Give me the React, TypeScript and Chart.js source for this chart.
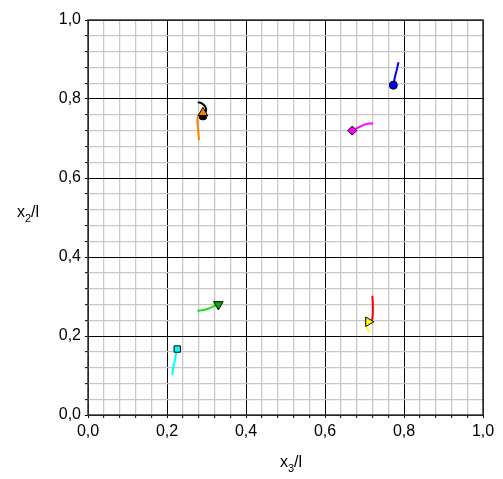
import React, { useEffect, useRef } from "react";
import { Chart, registerables } from "chart.js";

Chart.register(...registerables);

// Axis ticks
const axisMin = 0;
const axisMax = 1;
const gridStep = 0.04;
const majorStep = 0.2;
const xTitle = ["x", "3", "/l"];
const yTitle = ["x", "2", "/l"];

// Trajectories (x3/l, x2/l); last point carries the marker
const blackX = [0.278, 0.288, 0.296, 0.299, 0.296, 0.291];
const blackY = [0.792, 0.789, 0.782, 0.772, 0.764, 0.757];
const orangeX = [0.281, 0.279, 0.277, 0.279, 0.285, 0.291];
const orangeY = [0.696, 0.72, 0.745, 0.757, 0.763, 0.765];
const blueX = [0.786, 0.782, 0.778, 0.775, 0.773];
const blueY = [0.893, 0.875, 0.86, 0.845, 0.835];
const magentaX = [0.722, 0.712, 0.697, 0.683, 0.669];
const magentaY = [0.738, 0.738, 0.734, 0.727, 0.72];
const greenX = [0.277, 0.287, 0.298, 0.313, 0.33];
const greenY = [0.263, 0.265, 0.267, 0.273, 0.28];
const cyanX = [0.213, 0.216, 0.22, 0.223, 0.226];
const cyanY = [0.101, 0.12, 0.139, 0.155, 0.167];
const redX = [0.72, 0.721, 0.721, 0.72, 0.718];
const redY = [0.302, 0.28, 0.257, 0.245, 0.236];
const yellowX = [0.714, 0.709, 0.705, 0.707, 0.71];
const yellowY = [0.211, 0.216, 0.224, 0.231, 0.236];

const seriesNames = ["black", "orange", "blue", "magenta", "green", "cyan", "red", "yellow"];
const seriesX = [blackX, orangeX, blueX, magentaX, greenX, cyanX, redX, yellowX];
const seriesY = [blackY, orangeY, blueY, magentaY, greenY, cyanY, redY, yellowY];
const lineColors = ["#000000", "#ff8000", "#0000ff", "#ff00ff", "#22dd22", "#00ffff", "#ff0000", "#ffff00"];
const markerColors = ["#000000", "#ff8000", "#0000ff", "#ff00ff", "#00b000", "#00ffff", "#ff0000", "#ffff00"];
const markerStyles = ["circle", "triangle", "circle", "rectRot", "triangle", "rect", "circle", "triangle"];
const markerRotations = [0, 0, 0, 0, 180, 0, 0, 90];
const markerSizes = [4, 5.5, 4, 4.5, 5.5, 4.5, 0, 5.5];

const isMajor = (v: number) => Math.abs(v / majorStep - Math.round(v / majorStep)) < 1e-6;

const fontFamily = "'Liberation Sans', Arial, sans-serif";

const extrasPlugin = {
  id: "extras",
  afterDraw(chart: any) {
    const { ctx, chartArea } = chart;
    ctx.save();
    // border
    ctx.strokeStyle = "#333";
    ctx.lineWidth = 1.5;
    ctx.strokeRect(chartArea.left, chartArea.top, chartArea.right - chartArea.left, chartArea.bottom - chartArea.top);
    // titles with subscripts
    const drawTitle = (parts: string[], cx: number, cy: number) => {
      ctx.fillStyle = "#000";
      ctx.textBaseline = "alphabetic";
      ctx.textAlign = "left";
      const big = "16px " + fontFamily;
      const small = "11px " + fontFamily;
      ctx.font = big;
      const w0 = ctx.measureText(parts[0]).width;
      const w2 = ctx.measureText(parts[2]).width;
      ctx.font = small;
      const w1 = ctx.measureText(parts[1]).width;
      const total = w0 + w1 + w2;
      let x = cx - total / 2;
      ctx.font = big;
      ctx.fillText(parts[0], x, cy);
      x += w0;
      ctx.font = small;
      ctx.fillText(parts[1], x, cy + 5);
      x += w1;
      ctx.font = big;
      ctx.fillText(parts[2], x, cy);
    };
    drawTitle(xTitle, 291, 467);
    drawTitle(yTitle, 28, 217);
    ctx.restore();
  },
};

export default function App() {
  const ref = useRef<HTMLCanvasElement>(null);
  useEffect(() => {
    if (!ref.current) return;
    const datasets = seriesNames.map((name, i) => {
      const n = seriesX[i].length;
      return {
        label: name,
        data: seriesX[i].map((x, j) => ({ x, y: seriesY[i][j] })),
        borderColor: lineColors[i],
        backgroundColor: markerColors[i],
        borderWidth: 2,
        showLine: true,
        tension: 0.4,
        pointRadius: seriesX[i].map((_, j) => (j === n - 1 ? markerSizes[i] : 0)),
        pointStyle: markerStyles[i] as any,
        rotation: markerRotations[i],
        pointBorderColor: "#000",
        pointBorderWidth: 1,
        pointBackgroundColor: markerColors[i],
        order: 10 - i,
      };
    });
    const scaleCommon = (axis: "x" | "y") => ({
      type: "linear" as const,
      min: axisMin,
      max: axisMax,
      afterBuildTicks(scale: any) {
        const t = [];
        for (let i = 0; i <= 25; i++) t.push({ value: Math.round(i * gridStep * 100) / 100 });
        scale.ticks = t;
      },
      afterFit(scale: any) {
        if (axis === "y") scale.width = 88;
        else scale.height = 64;
      },
      border: { display: false },
      grid: {
        color: (c: any) => (isMajor(c.tick.value) ? "#000000" : "#c8c8c8"),
        lineWidth: (c: any) => (isMajor(c.tick.value) ? 1 : 1.3),
        tickColor: "#000",
        tickLength: 3,
        tickWidth: 1,
        drawTicks: true,
      },
      ticks: {
        autoSkip: false,
        maxRotation: 0,
        padding: axis === "x" ? 4 : 4,
        color: "#000",
        font: { family: fontFamily, size: 16 },
        callback: (v: any) => (isMajor(Number(v)) ? Number(v).toFixed(1).replace(".", ",") : ""),
      },
    });
    const chart = new Chart(ref.current, {
      type: "scatter",
      data: { datasets: datasets as any },
      options: {
        animation: false,
        responsive: false,
        maintainAspectRatio: false,
        layout: { padding: { left: 0, top: 20, right: 20, bottom: 0 } },
        plugins: { legend: { display: false }, tooltip: { enabled: false } },
        scales: { x: scaleCommon("x"), y: scaleCommon("y") } as any,
      },
      plugins: [extrasPlugin],
    });
    return () => chart.destroy();
  }, []);
  return (
    <div style={{ position: "fixed", left: 0, top: 0, width: 503, height: 479, background: "#fff" }}>
      <canvas ref={ref} width={503} height={479} style={{ width: 503, height: 479 }} />
    </div>
  );
}
